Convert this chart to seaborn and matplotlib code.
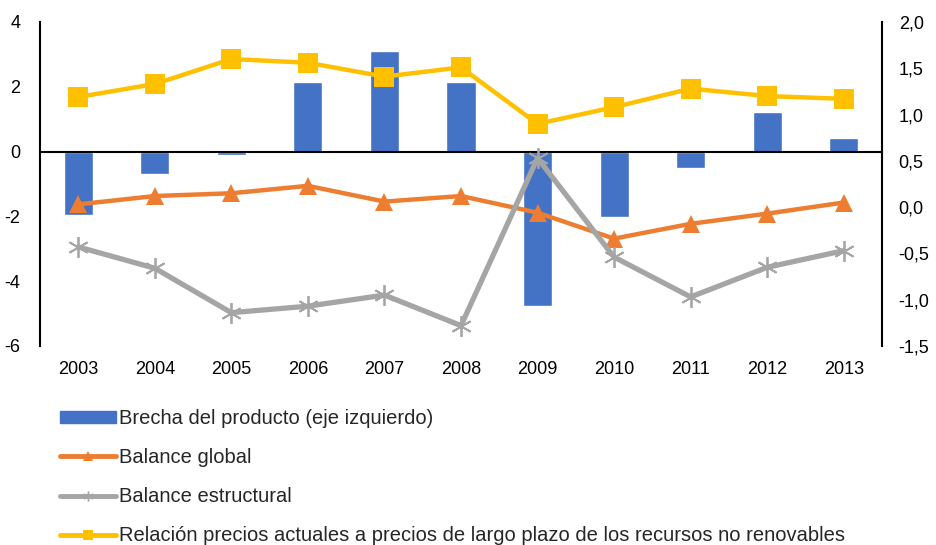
import numpy as np
import pandas as pd
import matplotlib
matplotlib.use("Agg")
import matplotlib.pyplot as plt
from matplotlib.lines import Line2D
from matplotlib.patches import Patch
from matplotlib.ticker import FuncFormatter
import seaborn as sns

# data
years = ["2003", "2004", "2005", "2006", "2007", "2008", "2009", "2010", "2011", "2012", "2013"]
brecha = [-1.95, -0.68, -0.12, 2.15, 3.12, 2.15, -4.78, -2.02, -0.5, 1.22, 0.42]
balance_global = [0.03, 0.12, 0.15, 0.23, 0.06, 0.12, -0.06, -0.34, -0.18, -0.07, 0.05]
balance_estructural = [-0.43, -0.66, -1.14, -1.07, -0.95, -1.28, 0.53, -0.54, -0.97, -0.65, -0.47]
relacion_precios = [1.19, 1.33, 1.6, 1.56, 1.41, 1.51, 0.9, 1.08, 1.28, 1.2, 1.17]

labels = ["Brecha del producto (eje izquierdo)", "Balance global", "Balance estructural",
          "Relación precios actuales a precios de largo plazo de los recursos no renovables"]

c_bar = "#4472C4"
c_glob = "#ED7D31"
c_estr = "#A5A5A5"
c_rel = "#FFC000"

sns.set_style("white")
plt.rcParams["font.family"] = ["Liberation Sans", "DejaVu Sans"]
plt.rcParams["axes.unicode_minus"] = False

fig = plt.figure(figsize=(9.36, 5.45), dpi=100)
ax = fig.add_axes([40 / 936, 1 - 346 / 545, 842 / 936, 324 / 545])

df = pd.DataFrame({"year": years, "brecha": brecha})
sns.barplot(data=df, x="year", y="brecha", color=c_bar, saturation=1, width=0.38, ax=ax, zorder=1)
ax.axhline(0, color="black", lw=1.5, zorder=2)
ax.set_ylim(-6, 4)
ax.set_yticks([-6, -4, -2, 0, 2, 4])
ax.set_xlim(-0.5, len(years) - 0.5)
ax.set_xlabel("")
ax.set_ylabel("")

ax2 = ax.twinx()
pos = np.arange(len(years))
sns.lineplot(x=pos, y=balance_global, ax=ax2, color=c_glob, lw=3.2, marker="^",
             markersize=13, markeredgewidth=0)
sns.lineplot(x=pos, y=balance_estructural, ax=ax2, color=c_estr, lw=3.8, marker=(6, 2, 0),
             markersize=15, markeredgewidth=1.3, markeredgecolor=c_estr)
sns.lineplot(x=pos, y=relacion_precios, ax=ax2, color=c_rel, lw=3.2, marker="s",
             markersize=14, markeredgewidth=0)
ax2.set_ylim(-1.5, 2.0)
ax2.set_yticks([-1.5, -1.0, -0.5, 0.0, 0.5, 1.0, 1.5, 2.0])
ax2.yaxis.set_major_formatter(FuncFormatter(lambda v, p: f"{v:.1f}".replace(".", ",")))
ax2.set_xlim(-0.5, len(years) - 0.5)

for a in (ax, ax2):
    for s in a.spines.values():
        s.set_visible(False)
    a.tick_params(length=0, labelsize=13, colors="black")
    a.grid(False)
ax.spines["left"].set_visible(True)
ax.spines["left"].set_color("black")
ax.spines["left"].set_linewidth(1.5)
ax2.spines["right"].set_visible(True)
ax2.spines["right"].set_color("black")
ax2.spines["right"].set_linewidth(1.5)
ax.tick_params(axis="y", pad=14)
ax2.tick_params(axis="y", pad=12)
ax.tick_params(axis="x", pad=11)

handles = [
    Patch(color=c_bar),
    Line2D([], [], color=c_glob, lw=3.5, marker="^", markersize=7, markeredgewidth=0),
    Line2D([], [], color=c_estr, lw=3.5, marker=(6, 2, 0), markersize=7, markeredgecolor=c_estr),
    Line2D([], [], color=c_rel, lw=3.5, marker="s", markersize=7, markeredgewidth=0),
]
fig.legend(handles, labels, loc="upper left", bbox_to_anchor=(52 / 936, 1 - 401 / 545),
           frameon=False, fontsize=14.5, handlelength=2.8, handleheight=0.6, handletextpad=0.15,
           labelspacing=1.0, borderaxespad=0)

fig.savefig("out.png", dpi=100)
